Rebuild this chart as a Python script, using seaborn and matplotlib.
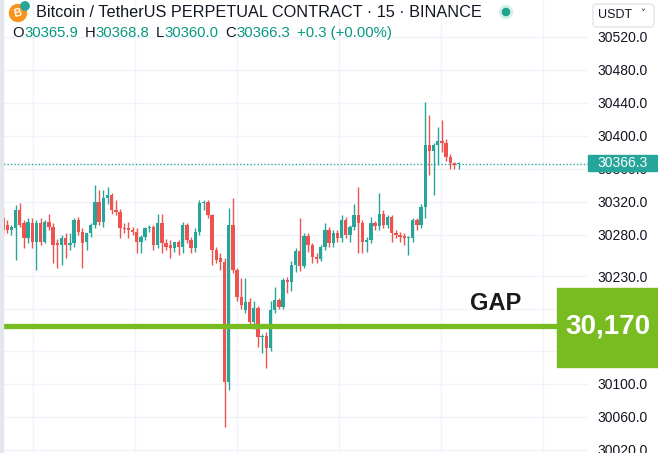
import numpy as np
import pandas as pd
import matplotlib
matplotlib.use("Agg")
import matplotlib.pyplot as plt
import seaborn as sns
from matplotlib.patches import FancyBboxPatch, Rectangle, Circle
from matplotlib.transforms import IdentityTransform

# ---------------- data (15-min candles) ----------------
opens = [30301, 30292, 30286, 30288, 30310, 30294, 30276, 30295, 30271, 30294,
         30272, 30296, 30290, 30270, 30268, 30276, 30268, 30270, 30298, 30284,
         30271, 30282, 30292, 30320, 30296, 30325, 30328, 30310, 30308, 30288,
         30288, 30286, 30284, 30271, 30277, 30288, 30290, 30268, 30294, 30270,
         30268, 30264, 30271, 30265, 30292, 30274, 30264, 30284, 30319, 30320,
         30304, 30262, 30252, 30247, 30102, 30292, 30238, 30205, 30189, 30199,
         30174, 30191, 30156, 30157, 30143, 30189, 30201, 30193, 30225, 30223,
         30244, 30261, 30242, 30279, 30268, 30253, 30251, 30265, 30286, 30270,
         30282, 30276, 30298, 30280, 30290, 30304, 30294, 30271, 30274, 30294,
         30291, 30306, 30292, 30302, 30282, 30280, 30279, 30276, 30276, 30298,
         30292, 30314, 30389, 30382, 30389, 30394, 30392, 30375, 30367, 30365.9]
highs = [30313, 30298, 30292, 30316, 30319, 30298, 30300, 30300, 30298, 30300,
         30298, 30306, 30294, 30275, 30280, 30282, 30282, 30301, 30302, 30288,
         30283, 30295, 30340, 30335, 30335, 30338, 30331, 30322, 30312, 30294,
         30296, 30290, 30288, 30280, 30290, 30292, 30292, 30306, 30306, 30275,
         30274, 30272, 30274, 30296, 30295, 30278, 30288, 30322, 30322, 30322,
         30306, 30266, 30258, 30252, 30313, 30325, 30240, 30228, 30228, 30204,
         30200, 30194, 30160, 30162, 30200, 30217, 30204, 30228, 30229, 30248,
         30264, 30300, 30283, 30282, 30270, 30258, 30268, 30294, 30290, 30286,
         30286, 30304, 30302, 30292, 30318, 30338, 30298, 30278, 30302, 30297,
         30331, 30310, 30304, 30304, 30286, 30284, 30282, 30279, 30300, 30301,
         30318, 30441, 30425, 30392, 30411, 30419, 30396, 30378, 30369, 30368.8]
lows = [30280, 30282, 30280, 30250, 30290, 30264, 30270, 30264, 30238, 30268,
        30270, 30286, 30246, 30240, 30244, 30252, 30262, 30266, 30280, 30240,
        30262, 30277, 30288, 30292, 30290, 30318, 30306, 30304, 30276, 30282,
        30276, 30280, 30258, 30258, 30274, 30284, 30262, 30264, 30258, 30262,
        30252, 30260, 30256, 30258, 30270, 30258, 30260, 30280, 30310, 30300,
        30244, 30246, 30237, 30047, 30092, 30234, 30200, 30190, 30186, 30168,
        30166, 30144, 30137, 30119, 30140, 30186, 30190, 30190, 30210, 30212,
        30235, 30236, 30240, 30260, 30246, 30246, 30248, 30262, 30266, 30266,
        30272, 30272, 30276, 30272, 30286, 30258, 30258, 30259, 30270, 30286,
        30286, 30288, 30289, 30272, 30276, 30272, 30268, 30256, 30272, 30286,
        30288, 30300, 30353, 30329, 30365, 30380, 30370, 30360, 30360, 30360.0]
closes = [30286, 30286, 30290, 30310, 30292, 30276, 30296, 30271, 30294, 30271,
          30296, 30290, 30268, 30268, 30276, 30268, 30270, 30298, 30284, 30270,
          30282, 30292, 30320, 30296, 30325, 30328, 30310, 30308, 30288, 30287,
          30286, 30284, 30271, 30277, 30288, 30290, 30268, 30294, 30270, 30265,
          30264, 30271, 30265, 30292, 30274, 30264, 30284, 30319, 30320, 30304,
          30262, 30250, 30247, 30102, 30292, 30238, 30205, 30195, 30199, 30174,
          30191, 30156, 30157, 30143, 30189, 30201, 30193, 30225, 30223, 30244,
          30261, 30242, 30279, 30268, 30253, 30251, 30265, 30286, 30270, 30282,
          30276, 30298, 30280, 30290, 30304, 30294, 30271, 30274, 30294, 30291,
          30306, 30292, 30302, 30282, 30280, 30278, 30276, 30278, 30298, 30292,
          30314, 30389, 30382, 30389, 30394, 30392, 30375, 30367, 30365, 30366.3]

price_ticks = [30520, 30480, 30440, 30400, 30360, 30320, 30280, 30230, 30100, 30060, 30020]
last_price = 30366.3
gap_level = 30170
title = "Bitcoin / TetherUS PERPETUAL CONTRACT · 15 · BINANCE"
ohlc_parts = [("O", "k"), ("30365.9", "g"), ("H", "k"), ("30368.8", "g"),
              ("L", "k"), ("30360.0", "g"), ("C", "k"), ("30366.3", "g"),
              ("+0.3 (+0.00%)", "g")]

# ---------------- style ----------------
sns.set_theme(style="white")
plt.rcParams['font.family'] = ['Liberation Sans', 'DejaVu Sans']

UP = "#26a69a"
DOWN = "#ef5350"
TXT = "#131722"
GRID = "#f0f3fa"
LIME = "#78bc22"

W, H = 658, 453
fig = plt.figure(figsize=(W / 100, H / 100), dpi=100)
ax = fig.add_axes([0, 0, 588 / W, 1])

df = pd.DataFrame(dict(open=opens, high=highs, low=lows, close=closes))
df["idx"] = np.arange(len(df))
up = (df["close"] >= df["open"]).values
cols = np.where(up, UP, DOWN)

ax.vlines(df["idx"], df["low"], df["high"], colors=cols, linewidth=1.0, zorder=3)
body = np.maximum((df["close"] - df["open"]).abs(), 0.9)
ax.bar(df["idx"], body, bottom=np.minimum(df["open"], df["close"]),
       width=0.8, color=cols, linewidth=0, zorder=4)

# axis limits mapping to pixels
ax.set_xlim(-0.72, 139.95)
ax.set_ylim(30015.8, 30564.8)

for s in ax.spines.values():
    s.set_visible(False)
ax.set_xticks([])
ax.set_yticks(price_ticks)
ax.set_yticklabels([f"{v:.1f}" for v in price_ticks])
ax.tick_params(axis="y", left=False, labelleft=False, right=False, labelright=True,
               length=0, pad=7, labelsize=10, labelcolor=TXT)
for v in price_ticks + [30190, 30140]:
    ax.axhline(v, color=GRID, lw=1, zorder=0)
for gx in [7.2, 31.6, 56.0, 80.4, 104.8, 129.2]:
    ax.axvline(gx, color=GRID, lw=1, zorder=0)

# last price dotted line
ax.axhline(last_price, color=UP, lw=1, linestyle=(0, (1, 1.5)), zorder=2)
# gap line
ax.axhline(gap_level, color=LIME, lw=3.8, zorder=5)

def fx(x):
    return x / W

def fy(y):
    return 1 - y / H

# left edge strip
fig.add_artist(Rectangle((0, 0), 3, H, transform=IdentityTransform(),
                         color="#e3e6ec", zorder=6))

# last price label
fig.add_artist(Rectangle((588, H - 171), 69, 16, transform=IdentityTransform(),
                         color=UP, zorder=6))
fig.text(fx(622.5), fy(163), f"{last_price:.1f}", color="white", fontsize=10,
         ha="center", va="center", zorder=7)

# gap box
fig.add_artist(Rectangle((557, H - 367), 101, 79, transform=IdentityTransform(),
                         color=LIME, zorder=6))
fig.text(fx(608), fy(327), "30,170", color="white", fontsize=20, fontweight="bold",
         ha="center", va="center", zorder=7)
fig.text(fx(496), fy(303), "GAP", color="#1a1a1a", fontsize=17, fontweight="bold",
         ha="center", va="center", zorder=7)

# header: coin logo
fig.add_artist(Circle((18, H - 13), 8.5, transform=IdentityTransform(),
                      color="#f7931a", zorder=6))
fig.text(fx(18), fy(13.5), "B", color="white", fontsize=8, ha="center", va="center",
         fontweight="bold", rotation=12, zorder=7)
fig.add_artist(Circle((25, H - 6), 4.2, transform=IdentityTransform(),
                      color="#26a69a", zorder=7))
fig.text(fx(36), fy(12.5), title, color=TXT, fontsize=11.7, ha="left", va="center", zorder=7)
fig.add_artist(Circle((506, H - 12), 6.5, transform=IdentityTransform(),
                      color="#d6f0ea", zorder=6))
fig.add_artist(Circle((506, H - 12), 3.6, transform=IdentityTransform(),
                      color="#22a48c", zorder=7))

# OHLC line
green_t = "#089981"
prev = None
for i, (txt, c) in enumerate(ohlc_parts):
    color = TXT if c == "k" else green_t
    if prev is None:
        t = fig.text(fx(12), fy(33), txt, color=color, fontsize=10.7,
                     ha="left", va="center", zorder=7)
    else:
        gap = 0.5 if c == "g" else 4.5
        if txt.startswith("+"):
            gap = 4.5
        t = ax.annotate(txt, xy=(1, 0.5), xycoords=prev, xytext=(gap, 0),
                        textcoords="offset points", color=color, fontsize=10.7,
                        ha="left", va="center", zorder=7, annotation_clip=False)
    prev = t

# currency box
fig.add_artist(FancyBboxPatch((593, H - 27), 61, 23, transform=IdentityTransform(),
                              boxstyle="round,pad=0,rounding_size=4",
                              facecolor="white", edgecolor="#e0e3eb", lw=1, zorder=6))
fig.text(fx(598), fy(15.5), "USDT", color=TXT, fontsize=9, ha="left", va="center", zorder=7)
fig.text(fx(643), fy(14), "˅", color=TXT, fontsize=7, ha="center", va="center",
         family=["DejaVu Sans"], zorder=7)

fig.savefig("out.png", dpi=100)
